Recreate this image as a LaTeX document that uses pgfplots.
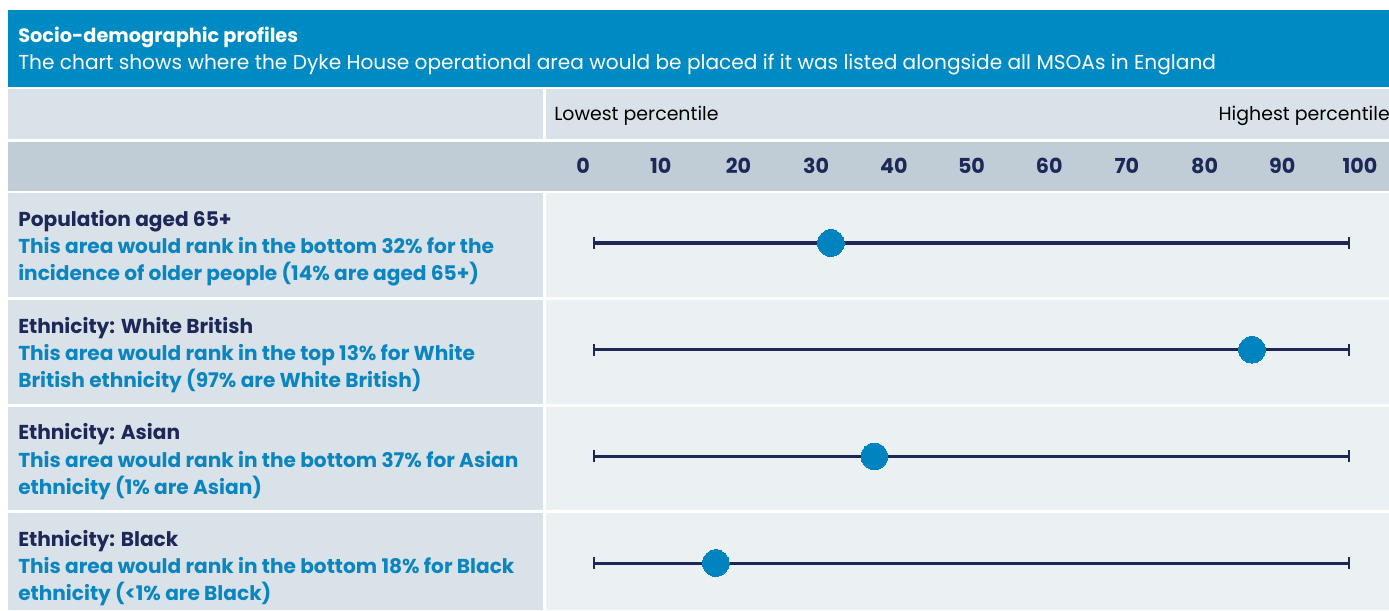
\documentclass[border=0pt]{standalone}
\usepackage{pgfplots}
\pgfplotsset{compat=1.18}
\usepackage{fontspec}
\setmainfont{Poppins}
\definecolor{hdr}{HTML}{008AC3}
\definecolor{rowA}{HTML}{DAE2E9}
\definecolor{rowB}{HTML}{C0CDD6}
\definecolor{rowC}{HTML}{EBF0F3}
\definecolor{navy}{HTML}{1D2858}
\definecolor{blu}{HTML}{0A85C0}
\definecolor{dot}{HTML}{0083BE}
\newcommand{\ttl}{\bfseries\fontsize{14.5}{16}\selectfont}
\newcommand{\sub}{\fontsize{15.1}{18}\selectfont}
\newcommand{\lab}{\bfseries\fontsize{15.1}{17}\selectfont}
\newcommand{\pct}{\fontsize{14.2}{16}\selectfont}
\begin{document}
\begin{tikzpicture}
\begin{scope}[x=0.75pt,y=-0.75pt]
\path[use as bounding box] (0,0) rectangle (1389,610);
\fill[white] (0,0) rectangle (1389,610);
\fill[hdr] (8,10) rectangle (1389,87);
\fill[rowA] (8,89) rectangle (543,139);
\fill[rowA] (546,89) rectangle (1389,139);
\fill[rowB] (8,142) rectangle (1389,191);
\fill[rowA] (8,193) rectangle (543,297);
\fill[rowC] (546,193) rectangle (1389,297);
\fill[rowA] (8,300) rectangle (543,404);
\fill[rowC] (546,300) rectangle (1389,404);
\fill[rowA] (8,407) rectangle (543,510);
\fill[rowC] (546,407) rectangle (1389,510);
\fill[rowA] (8,513) rectangle (543,610);
\fill[rowC] (546,513) rectangle (1389,610);
\node[anchor=base west, inner sep=0pt, text=white, font=\ttl] at (18,42.5) {Socio-demographic profiles};
\node[anchor=base west, inner sep=0pt, text=white, font=\sub] at (18,69.5) {The chart shows where the Dyke House operational area would be placed if it was listed alongside all MSOAs in England};
\node[anchor=base west, inner sep=0pt, text=black, font=\pct] at (554,120.7) {Lowest percentile};
\node[anchor=base east, inner sep=0pt, text=black, font=\pct] at (1390,120.7) {Highest percentile};
% row texts
\node[anchor=base west, inner sep=0pt, text=navy, font=\lab] at (18,226) {Population aged 65+};
\node[anchor=base west, inner sep=0pt, text=blu, font=\lab] at (18,253.5) {This area would rank in the bottom 32\% for the};
\node[anchor=base west, inner sep=0pt, text=blu, font=\lab] at (18,280.5) {incidence of older people (14\% are aged 65+)};
\node[anchor=base west, inner sep=0pt, text=navy, font=\lab] at (18,333) {Ethnicity: White British};
\node[anchor=base west, inner sep=0pt, text=blu, font=\lab] at (18,360.5) {This area would rank in the top 13\% for White};
\node[anchor=base west, inner sep=0pt, text=blu, font=\lab] at (18,387.5) {British ethnicity (97\% are White British)};
\node[anchor=base west, inner sep=0pt, text=navy, font=\lab] at (18,439.5) {Ethnicity: Asian};
\node[anchor=base west, inner sep=0pt, text=blu, font=\lab] at (18,467) {This area would rank in the bottom 37\% for Asian};
\node[anchor=base west, inner sep=0pt, text=blu, font=\lab] at (18,494) {ethnicity (1\% are Asian)};
\node[anchor=base west, inner sep=0pt, text=navy, font=\lab] at (18,546) {Ethnicity: Black};
\node[anchor=base west, inner sep=0pt, text=blu, font=\lab] at (18,573.5) {This area would rank in the bottom 18\% for Black};
\node[anchor=base west, inner sep=0pt, text=blu, font=\lab] at (18,600.5) {ethnicity (<1\% are Black)};
\end{scope}
\begin{axis}[
  at={(409.5pt,-457.5pt)}, anchor=south west,
  scale only axis, width=632.25pt, height=312.75pt,
  xmin=-4.76, xmax=103.73, ymin=0.56, ymax=4.469,
  axis line style={draw=none}, major tick length=0pt,
  ytick=\empty, xtick={0,10,...,100},
  xticklabel pos=upper,
  xticklabel style={anchor=base, yshift=14.25pt, text=navy, font=\bfseries\fontsize{15.5}{17}\selectfont},
  /pgf/number format/assume math mode=true,
  clip=false,
]
\addplot[navy, line width=2.3pt, mark=|, mark size=4.5pt, mark options={line width=1.8pt}] coordinates {(1.4,4) (98.6,4)};
\addplot[navy, line width=2.3pt, mark=|, mark size=4.5pt, mark options={line width=1.8pt}] coordinates {(1.4,3) (98.6,3)};
\addplot[navy, line width=2.3pt, mark=|, mark size=4.5pt, mark options={line width=1.8pt}] coordinates {(1.4,2) (98.6,2)};
\addplot[navy, line width=2.3pt, mark=|, mark size=4.5pt, mark options={line width=1.8pt}] coordinates {(1.4,1) (98.6,1)};
\addplot[only marks, color=dot, mark=*, mark size=10pt, mark options={fill=dot, draw=dot, line width=0pt}] coordinates {(31.9,4) (86.1,3) (37.5,2) (17.1,1)};
\end{axis}
\end{tikzpicture}
\end{document}
